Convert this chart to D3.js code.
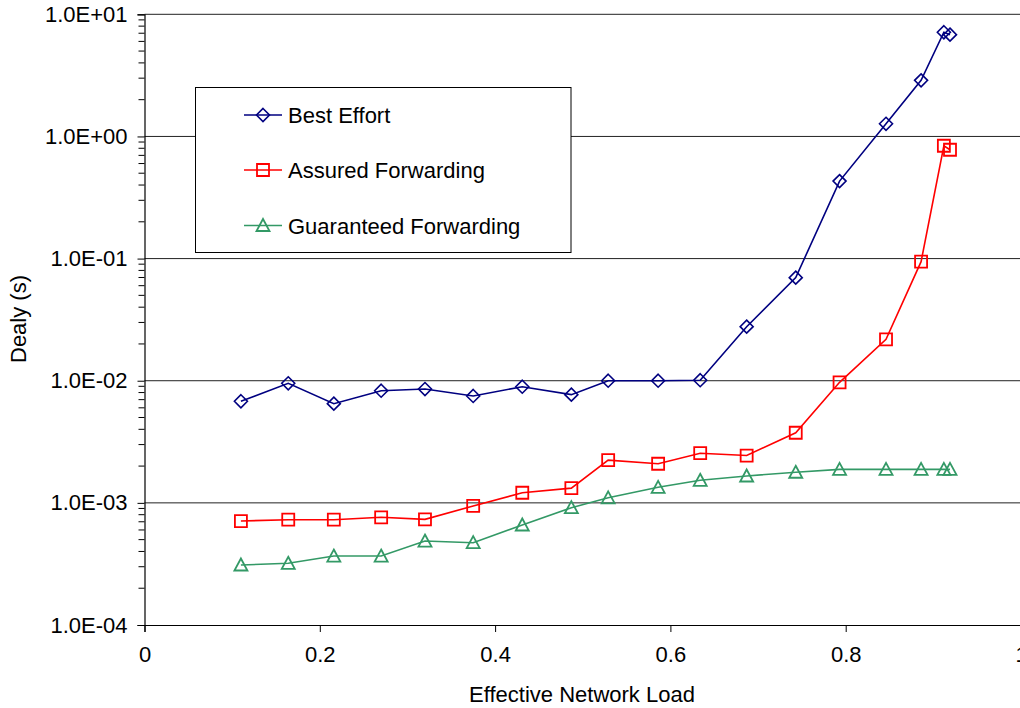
<!DOCTYPE html>
<html>
<head>
<meta charset="utf-8">
<script src="https://cdn.jsdelivr.net/npm/d3@7"></script>
<style>
  html, body { margin: 0; padding: 0; background: #fff; }
  svg { display: block; font-family: "Liberation Sans", Arial, sans-serif; }
</style>
</head>
<body>
<svg id="chart" width="1020" height="708"></svg>
<script>
// Effective network load (shared by all series)
const loads = [0.110, 0.164, 0.216, 0.270, 0.320, 0.375, 0.431, 0.487, 0.529, 0.586, 0.634,
               0.687, 0.743, 0.793, 0.846, 0.886, 0.912, 0.919];

// Delay in seconds per traffic class
const bestEffort = [0.00679, 0.00953, 0.00649, 0.00828, 0.00855, 0.0075, 0.00893, 0.00769, 0.0100,
                    0.0100, 0.0101, 0.0277, 0.0698, 0.431, 1.27, 2.88, 7.13, 6.81];
const assuredForwarding = [0.00071, 0.000728, 0.000728, 0.000762, 0.000733, 0.000943, 0.00121, 0.00132,
                           0.00224, 0.00209, 0.00255, 0.00244, 0.00375, 0.0097, 0.0218, 0.0943, 0.839, 0.778];
const guaranteedForwarding = [0.00031, 0.00032, 0.000367, 0.000367, 0.000487, 0.000472, 0.000659, 0.000913,
                              0.0011, 0.00134, 0.00153, 0.00166, 0.00178, 0.00188, 0.00188, 0.00188, 0.00188, 0.00188];

const seriesNames = ["Best Effort", "Assured Forwarding", "Guaranteed Forwarding"];

// Axis tick values and labels
const xTicks = [0, 0.2, 0.4, 0.6, 0.8, 1];
const xTickLabels = ["0", "0.2", "0.4", "0.6", "0.8", "1"];
const yTicks = [1e-4, 1e-3, 1e-2, 1e-1, 1, 10];
const yTickLabels = ["1.0E-04", "1.0E-03", "1.0E-02", "1.0E-01", "1.0E+00", "1.0E+01"];

const xTitle = "Effective Network Load";
const yTitle = "Dealy (s)";

const series = [
  { name: seriesNames[0], values: bestEffort, color: "#000080", marker: "diamond" },
  { name: seriesNames[1], values: assuredForwarding, color: "#FF0000", marker: "square" },
  { name: seriesNames[2], values: guaranteedForwarding, color: "#339966", marker: "triangle" }
];

const svg = d3.select("#chart");
const plotLeft = 144.5, plotRight = 1021, plotTop = 14.3, plotBottom = 625;

const x = d3.scaleLinear().domain([0, 1]).range([plotLeft, plotRight]);
const y = d3.scaleLog().domain([1e-4, 10]).range([plotBottom, plotTop]);

// Horizontal gridlines at each decade
svg.append("g")
  .selectAll("line")
  .data(yTicks.slice(1))
  .join("line")
  .attr("x1", plotLeft).attr("x2", plotRight + 5)
  .attr("y1", d => y(d)).attr("y2", d => y(d))
  .attr("stroke", "#222").attr("stroke-width", 1);

// Y axis with decade labels
const yAxis = d3.axisLeft(y)
  .tickValues(yTicks)
  .tickFormat((d, i) => yTickLabels[i])
  .tickSize(7)
  .tickPadding(10);
const gy = svg.append("g").attr("transform", `translate(${plotLeft},0)`).call(yAxis);
gy.select(".domain").attr("stroke", "#000").attr("stroke-width", 1.2);
gy.selectAll(".tick line").attr("stroke", "#000");
gy.selectAll(".tick text")
  .attr("font-size", 22).attr("fill", "#000")
  .attr("font-family", "Liberation Sans, Arial, sans-serif");

// Minor ticks at 2..9 within each decade
const minorTicks = [];
for (let e = -4; e < 1; e++) for (let m = 2; m <= 9; m++) minorTicks.push(m * Math.pow(10, e));
svg.append("g")
  .selectAll("line")
  .data(minorTicks)
  .join("line")
  .attr("x1", plotLeft - 6).attr("x2", plotLeft)
  .attr("y1", d => y(d)).attr("y2", d => y(d))
  .attr("stroke", "#000").attr("stroke-width", 1);

// X axis
const xAxis = d3.axisBottom(x)
  .tickValues(xTicks)
  .tickFormat((d, i) => xTickLabels[i])
  .tickSize(7)
  .tickPadding(14);
const gx = svg.append("g").attr("transform", `translate(0,${plotBottom})`).call(xAxis);
gx.select(".domain").attr("stroke", "#000").attr("stroke-width", 1.2);
gx.selectAll(".tick line").attr("stroke", "#000");
gx.selectAll(".tick text")
  .attr("font-size", 22).attr("fill", "#000")
  .attr("font-family", "Liberation Sans, Arial, sans-serif");

// Axis titles
svg.append("text")
  .attr("x", 582).attr("y", 702)
  .attr("text-anchor", "middle")
  .attr("font-size", 22)
  .text(xTitle);

svg.append("text")
  .attr("transform", `translate(26,319) rotate(-90)`)
  .attr("text-anchor", "middle")
  .attr("font-size", 22)
  .text(yTitle);

// Marker shapes
function markerPath(type) {
  if (type === "diamond") return "M0,-6.5L6.5,0L0,6.5L-6.5,0Z";
  if (type === "square") return "M-6,-6H6V6H-6Z";
  return "M0,-6.5L6.5,5.5H-6.5Z";
}

const line = d3.line()
  .x((d, i) => x(loads[i]))
  .y(d => y(d));

series.forEach(s => {
  const g = svg.append("g");
  g.append("path")
    .attr("d", line(s.values))
    .attr("fill", "none")
    .attr("stroke", s.color)
    .attr("stroke-width", 1.6);
  g.selectAll("path.mk")
    .data(s.values)
    .join("path")
    .attr("class", "mk")
    .attr("d", markerPath(s.marker))
    .attr("transform", (d, i) => `translate(${x(loads[i])},${y(d)})`)
    .attr("fill", "none")
    .attr("stroke", s.color)
    .attr("stroke-width", s.marker === "diamond" ? 1.6 : 1.8);
});

// Legend
const legend = svg.append("g");
legend.append("rect")
  .attr("x", 195.5).attr("y", 87.5)
  .attr("width", 375.5).attr("height", 165)
  .attr("fill", "#fff").attr("stroke", "#000").attr("stroke-width", 1);
const rowsY = [115, 170, 225.5];
series.forEach((s, i) => {
  const ry = rowsY[i];
  legend.append("line")
    .attr("x1", 244).attr("x2", 282)
    .attr("y1", ry).attr("y2", ry)
    .attr("stroke", s.color).attr("stroke-width", 1.6);
  legend.append("path")
    .attr("d", markerPath(s.marker))
    .attr("transform", `translate(263,${ry})`)
    .attr("fill", "none").attr("stroke", s.color)
    .attr("stroke-width", s.marker === "diamond" ? 1.6 : 1.8);
  legend.append("text")
    .attr("x", 288).attr("y", ry + 8)
    .attr("font-size", 22)
    .text(s.name);
});
</script>
</body>
</html>
